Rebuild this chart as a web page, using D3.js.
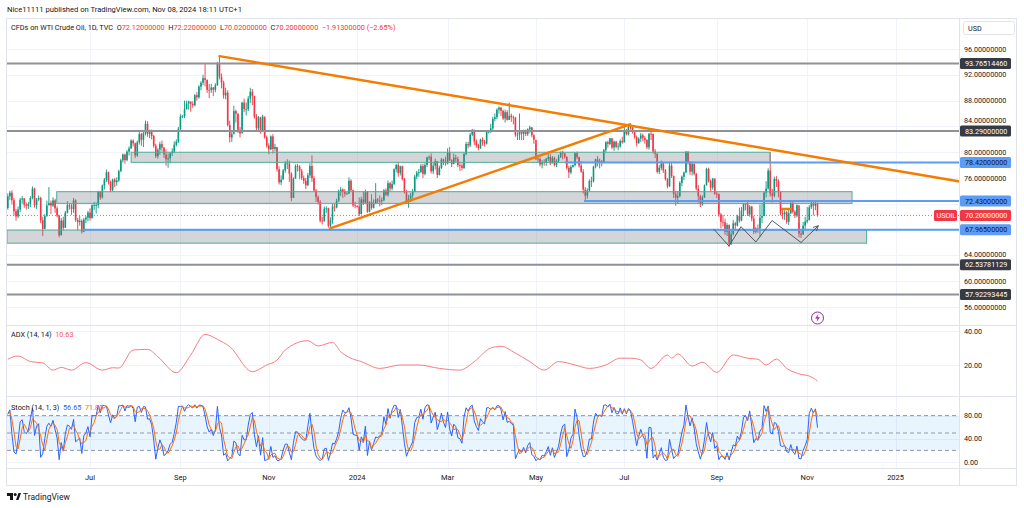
<!DOCTYPE html>
<html><head><meta charset="utf-8">
<script src="https://cdn.jsdelivr.net/npm/d3@7/dist/d3.min.js"></script>
<style>
  body { margin: 0; background: #fff; }
  text { font-family: "Roboto", "Liberation Sans", sans-serif; fill: #131722; }
</style>
</head>
<body>
<svg id="chart" width="1024" height="508"></svg>
<script>
// ---- data: USOIL daily bars, weekdays from May 8 2023 to Nov 8 2024 ----
const startDate = new Date(2023, 4, 8);
const startOpen = 71.34;
const closes = [
  73.16,73.71,72.56,70.87,70.04, 71.11,72.65,72.83,71.86,71.69, 71.99,72.91,74.34,71.83,72.67,
  72.90,69.46,68.09,70.10,71.74, 72.15,71.74,72.53,71.29,70.17, 67.12,69.42,68.27,70.62,71.78,
  71.60,71.19,72.53,69.51,69.16, 69.37,67.70,69.56,69.86,70.64, 69.79,71.79,71.79,71.80,73.86,
  72.99,74.83,75.75,76.89,75.42, 74.15,75.75,75.35,75.63,77.07, 78.74,79.63,78.78,80.09,80.58,
  81.80,81.37,79.49,81.55,82.82, 81.94,82.92,84.40,82.82,83.19, 82.51,80.99,79.38,80.39,81.25,
  80.72,79.64,78.89,79.05,79.83, 80.10,81.16,81.63,83.63,85.55, 85.60,86.69,87.54,87.87,87.51,
  87.29,88.84,88.52,90.16,90.77, 91.48,91.20,89.66,89.63,90.03, 89.68,90.39,93.68,91.71,90.79,
  88.82,89.23,84.22,82.31,82.79, 86.38,85.97,83.49,82.91,87.69, 86.66,86.66,88.32,89.37,88.75,
  85.49,83.74,85.39,83.21,85.54, 82.31,81.02,80.44,82.46,80.51, 80.82,77.37,75.33,75.74,77.17,
  78.26,78.26,76.66,72.90,75.89, 77.83,77.77,77.10,76.00,75.54, 74.86,76.41,77.86,75.96,74.07,
  73.04,72.32,69.38,69.34,71.23, 71.32,68.61,69.47,71.58,71.43, 72.47,73.94,74.22,73.89,73.56,
  73.60,75.57,74.11,71.77,71.65, 71.60,70.38,72.70,72.19,73.81, 70.77,72.24,71.37,72.02,72.68,
  72.50,72.40,72.56,74.08,73.41, 75.19,74.37,75.09,77.36,78.01, 76.78,77.82,75.85,73.82,72.28,
  72.78,73.31,73.86,76.22,76.84, 76.92,77.87,76.64,78.03,79.19, 79.30,77.04,77.91,78.61,76.49,
  77.58,78.87,78.54,78.26,79.97, 78.74,78.15,79.13,78.93,78.01, 77.93,77.56,79.72,81.26,81.04,
  82.72,83.47,81.68,81.07,80.63, 81.95,81.62,81.35,83.17,83.20, 83.71,85.15,85.43,86.59,86.91,
  86.43,85.23,86.21,85.02,85.66, 85.41,85.36,82.69,82.73,83.14, 82.85,83.36,82.81,83.57,83.85,
  82.63,81.93,79.00,78.95,78.11, 78.48,78.38,78.99,79.26,78.26, 79.12,78.02,78.63,79.23,80.06,
  79.80,79.26,77.57,76.87,77.72, 78.00,79.83,79.23,77.91,76.99, 74.22,73.25,74.07,75.55,75.53,
  77.74,78.90,78.50,78.62,78.45, 80.33,81.57,81.30,82.17,80.73, 81.63,80.83,80.90,81.74,81.54,
  83.38,82.81,83.88,83.80,83.16, 82.33,81.41,82.10,82.62,82.21, 81.91,80.76,82.85,82.82,80.13,
  79.78,76.96,77.59,78.28,77.16, 75.81,74.73,77.91,76.31,73.52, 72.94,73.20,75.23,76.19,76.84,
  80.06,78.35,76.98,78.16,76.65, 74.37,73.17,71.93,73.01,74.83, 77.42,75.53,74.52,75.91,73.55,
  73.50,70.34,69.20,69.15,67.67, 68.71,65.75,67.31,68.97,68.65, 70.09,69.39,70.91,71.95,71.92,
  70.37,71.56,69.69,67.67,68.18, 68.17,69.83,70.10,73.71,74.38, 77.14,73.57,73.24,75.85,75.56,
  73.83,70.58,70.39,70.67,69.22, 70.56,72.09,70.77,70.19,71.78, 67.38,67.21,68.61,69.26,69.49,
  71.47,71.99,71.69,72.11,70.20
];
const highs = [
  73.6,74.0,74.1,72.9,71.2, 71.6,72.9,73.2,72.9,72.2, 72.3,73.2,74.7,74.5,72.9,
  73.3,73.1,70.0,70.4,72.5, 74.6,72.5,73.0,72.8,71.6, 70.3,69.8,70.0,70.9,72.4,
  72.0,72.0,72.9,72.7,69.8, 70.1,69.6,69.8,70.1,70.9, 71.3,71.9,72.3,72.2,74.0,
  74.0,75.0,76.0,77.3,77.0, 75.6,75.9,76.0,76.1,77.3, 79.0,79.8,79.8,80.3,80.9,
  82.0,82.0,81.5,81.8,83.2, 83.0,83.3,84.9,84.8,83.5, 83.5,82.7,81.3,80.6,81.6,
  81.8,80.8,80.4,79.8,80.0, 80.6,81.7,82.0,83.9,85.9, 85.8,88.0,88.0,88.0,87.8,
  87.9,89.0,89.3,90.4,91.0, 92.0,93.7,91.3,90.6,90.6, 90.1,90.7,94.0,95.0,92.2,
  91.1,90.0,89.6,84.9,83.4, 87.2,86.6,86.0,83.9,87.8, 88.3,87.7,88.7,90.0,89.8,
  88.3,85.9,85.6,85.5,85.8, 85.2,82.6,81.4,82.6,82.8, 81.3,80.7,77.8,76.4,77.4,
  78.6,78.9,78.7,76.9,76.1, 78.1,78.2,78.0,77.4,76.4, 76.0,76.8,78.3,79.5,76.3,
  74.3,73.3,72.6,70.0,71.6, 71.6,71.4,69.9,72.0,72.0, 72.8,74.2,74.6,74.4,74.3,
  73.8,76.1,75.8,74.2,72.3, 71.8,73.0,73.1,73.9,74.2, 74.0,72.4,73.5,72.7,75.2,
  72.9,73.3,73.0,74.3,74.4, 75.6,75.4,75.6,77.5,78.2, 78.5,77.9,77.9,76.0,74.1,
  73.4,73.7,74.3,76.5,77.1, 77.4,78.2,78.2,78.3,79.3, 79.5,79.8,78.4,79.0,78.6,
  77.9,79.1,79.0,79.3,80.6, 80.8,78.9,79.8,79.6,79.3, 78.5,78.3,79.9,81.6,81.6,
  83.0,83.6,83.5,82.0,81.3, 82.1,82.3,81.9,83.3,83.4, 84.4,85.5,86.0,86.8,87.1,
  87.0,86.6,86.6,86.5,87.7, 86.0,85.7,85.5,83.1,86.0, 83.3,83.5,83.5,83.7,84.1,
  83.9,82.8,81.2,79.6,79.2, 78.8,78.9,79.1,79.8,79.7, 79.4,79.3,78.9,79.6,80.1,
  80.2,79.9,79.4,77.9,78.0, 78.1,80.0,80.1,79.3,78.6, 77.4,74.6,74.4,75.8,76.2,
  77.9,79.0,79.4,79.0,78.8, 80.5,81.7,81.8,82.2,82.1, 81.8,81.8,81.4,82.0,82.4,
  83.9,83.6,84.4,84.5,83.9, 83.2,82.6,82.3,83.0,82.9, 82.5,82.0,83.0,83.4,82.9,
  80.5,79.8,78.0,78.7,78.3, 77.4,76.0,78.5,78.4,76.4, 74.0,74.0,75.5,76.4,77.0,
  80.2,80.2,78.6,78.4,78.3, 76.8,74.9,73.4,73.3,75.0, 77.6,77.6,75.8,76.0,75.9,
  73.9,73.6,70.6,70.3,69.7, 69.0,68.8,67.8,69.5,69.2, 70.3,71.4,71.5,72.1,72.1,
  72.4,71.8,71.7,70.1,68.4, 68.8,71.9,72.0,73.9,75.5, 77.5,80.0,74.3,76.2,76.3,
  75.8,73.9,71.3,71.0,70.9, 71.1,72.4,72.4,71.0,71.9, 69.0,67.9,69.2,70.0,71.5,
  71.8,72.3,72.6,72.5,72.22
];
const lows = [
  71.1,72.6,71.9,70.2,69.4, 69.8,70.7,72.0,71.4,71.1, 71.2,71.5,72.7,71.4,71.2,
  72.4,69.0,67.0,68.3,70.0, 71.9,70.4,71.5,70.6,69.9, 66.8,67.1,67.9,68.3,70.5,
  71.1,70.3,70.6,69.2,67.9, 68.6,67.4,67.6,69.0,69.3, 69.4,69.7,71.0,70.5,71.3,
  72.6,72.8,74.2,75.4,75.0, 73.8,73.9,74.6,74.8,75.4, 76.9,78.4,78.2,78.6,79.5,
  80.5,80.9,79.1,79.3,81.2, 81.0,80.8,82.6,82.4,82.2, 82.0,80.7,79.1,79.0,79.6,
  80.1,79.1,77.9,77.6,78.3, 79.4,79.9,80.9,81.4,83.4, 85.3,85.3,86.6,86.6,86.3,
  86.9,87.1,88.0,88.3,89.6, 90.4,90.2,89.2,88.4,89.2, 88.7,89.3,90.3,91.3,89.9,
  88.3,88.2,84.0,81.5,81.6, 84.3,84.6,83.0,82.3,83.6, 86.2,85.7,86.4,87.6,87.3,
  85.2,83.3,83.3,82.9,83.2, 82.1,80.7,79.7,80.3,79.8, 80.1,77.0,75.0,74.9,75.8,
  76.8,77.4,75.4,72.4,73.1, 75.9,77.0,75.8,75.7,75.1, 74.3,74.8,76.0,75.4,73.8,
  72.3,71.9,69.1,68.8,69.2, 70.6,68.3,67.8,68.9,70.8, 71.3,72.3,73.2,72.9,73.1,
  73.4,73.5,73.9,71.5,71.3, 71.4,70.1,70.4,71.8,72.0, 70.6,70.7,71.1,71.3,72.0,
  72.1,71.6,71.8,72.4,73.2, 73.1,73.8,74.1,74.9,76.9, 76.2,76.4,75.6,73.6,72.0,
  71.4,72.3,72.8,73.8,75.8, 76.2,76.8,76.0,76.4,77.7, 78.8,76.7,76.6,77.3,76.0,
  76.4,77.4,78.0,77.9,78.1, 78.6,77.7,78.3,78.5,77.7, 77.1,77.2,77.4,79.5,80.6,
  80.8,82.5,81.1,80.7,80.3, 80.5,81.0,80.9,81.2,82.9, 83.0,83.3,84.8,85.1,86.0,
  85.6,85.0,84.6,84.9,85.0, 84.7,84.3,82.4,81.9,81.9, 81.9,81.9,82.5,82.5,83.0,
  82.3,81.3,78.8,78.5,77.8, 77.5,77.9,77.9,78.6,78.0, 78.3,77.8,77.7,78.4,79.1,
  78.9,79.0,77.3,76.0,76.6, 77.6,77.8,78.9,77.6,76.8, 73.6,72.5,72.8,73.9,74.6,
  75.3,77.5,77.8,77.5,77.8, 78.3,80.0,80.7,81.1,80.5, 80.2,80.6,80.3,80.7,81.3,
  81.5,82.6,82.6,83.5,82.9, 82.1,80.9,81.3,81.6,81.7, 81.3,80.5,80.4,81.9,79.8,
  79.1,76.7,76.6,77.2,76.8, 75.6,74.4,74.6,76.0,72.9, 71.7,72.0,73.0,74.7,75.7,
  76.8,78.1,76.5,76.4,76.4, 74.1,72.2,71.5,71.7,72.9, 74.9,75.3,73.9,74.2,73.4,
  72.9,70.0,68.2,68.5,67.2, 67.0,65.3,65.6,67.1,67.8, 68.5,69.1,69.3,70.1,71.0,
  70.1,70.0,69.3,67.3,67.4, 67.5,66.9,69.0,70.1,73.0, 74.2,73.1,72.2,73.0,74.6,
  73.0,70.2,69.6,69.5,68.9, 68.7,70.4,70.5,69.8,69.9, 66.8,66.7,67.3,68.0,69.0,
  69.4,71.2,70.2,71.0,70.02
];

// ADX(14,14): bar index and value
const adxBar = [0,5,11,17,22,26,31,38,46,51,54,61,68,73,82,89,96,102,108,119,126,131,135,146,151,158,162,
  167,172,181,191,200,210,220,227,235,240,247,254,261,268,276,283,291,298,303,
  308,313,321,323,326,333,338,345,353,360,365,369,374,379,386,390,394];
const adxVal = [23.4,25.3,22.0,21.2,17.0,18.6,17.0,21.4,17.0,18.4,18.2,28.8,29.2,24.9,15.5,25.9,38.0,35.1,30.8,16.1,20.0,22.9,28.8,34.3,31.2,33.3,27.8,
  24.0,22.0,18.0,20.0,20.0,18.0,17.0,22.0,30.0,31.0,27.0,22.0,17.0,22.0,20.0,18.0,20.0,24.0,24.0,
  23.0,18.0,25.9,24.0,26.5,19.4,21.6,15.7,25.9,24.0,23.4,20.0,23.5,18.0,14.5,13.5,10.63];

// horizontal levels and drawings, in price / bar units
const grayLevels = [93.76514460, 83.29, 62.53781129, 57.92293445];
const blueLevels = [{ p: 67.965, from: 36.6 }, { p: 72.43, from: 280.4 }, { p: 78.42, from: 271 }];
const zones = [
  { from: 60, to: 370.9, lo: 78.43, hi: 80.0 },
  { from: 23.8, to: 410.8, lo: 72.07, hi: 73.88 },
  { from: -1, to: 417.9, lo: 65.9, hi: 67.94 }
];
const trendLines = [
  [[103, 94.9], [462.6, 75.5]],
  [[156.8, 68.2], [302.8, 84.33]],
  [[376.7, 71.2], [381.1, 71.2]]
];
const patternPts = [[343.6, 68.05], [350.9, 65.46], [356.8, 68.45], [364.0, 66.08], [371.9, 69.41], [386.0, 66.0], [394.4, 68.6]];
const lastPrice = 70.20;
const monthNames = ["Jan","Feb","Mar","Apr","May","Jun","Jul","Aug","Sep","Oct","Nov","Dec"];
const priceTicks = d3.range(56, 100, 4);

// ---- layout ----
const svg = d3.select("#chart");
const L = 7, R = 959.5, axR = 1016.5;
const mainTop = 18.5, mainBot = 325.5, adxBot = 396.5, stBot = 468.5, timeBot = 485.5;
const up = "#089981", down = "#f23645";
const n = closes.length;
const opens = closes.map((c, i) => i ? closes[i - 1] : startOpen);

const x = d3.scaleLinear().domain([0, 394]).range([7.8, 817.5]);
const yP = d3.scaleLinear().domain([53.52, 100.81]).range([323, 18]);
const yA = d3.scaleLinear().domain([1.18, 43.53]).range([397, 325]);
const yS = d3.scaleLinear().domain([-10.34, 112.07]).range([468, 397]);

// trading dates for the time axis (weekdays)
const nAll = Math.ceil(x.invert(R)) + 1;
const dates = [];
for (let d = new Date(startDate); dates.length < nAll; d.setDate(d.getDate() + 1)) {
  if (d.getDay() !== 0 && d.getDay() !== 6) dates.push(new Date(d));
}
const timeTicks = [];
dates.forEach((d, i) => {
  if (i > 0 && d.getMonth() !== dates[i - 1].getMonth() && d.getMonth() % 2 === 0 && x(i) < R - 10) {
    timeTicks.push({ i, label: d.getMonth() === 0 ? String(d.getFullYear()) : monthNames[d.getMonth()] });
  }
});

// price labels on the axis (drawn last, listed here so ticks can avoid them)
const tags = [
  ...grayLevels.map(p => ({ p, fill: "#363a45", color: "#fff" })),
  ...blueLevels.map(d => ({ p: d.p, fill: "#5b9cf6", color: "#131722" })),
  { p: lastPrice, fill: "#f23645", color: "#fff" }
];

// clip paths
const defs = svg.append("defs");
defs.append("clipPath").attr("id", "clipMain").append("rect")
  .attr("x", L).attr("y", mainTop).attr("width", R - L).attr("height", mainBot - mainTop);
defs.append("clipPath").attr("id", "clipLow").append("rect")
  .attr("x", L).attr("y", mainBot).attr("width", R - L).attr("height", stBot - mainBot);

// grid
const grid = svg.append("g").attr("stroke", "#f0f3fa").attr("stroke-width", 1);
grid.selectAll("line.v").data(timeTicks).join("line")
  .attr("x1", d => Math.round(x(d.i)) + 0.5).attr("x2", d => Math.round(x(d.i)) + 0.5)
  .attr("y1", mainTop).attr("y2", stBot);
grid.selectAll("line.h").data(priceTicks).join("line")
  .attr("x1", L).attr("x2", R).attr("y1", d => Math.round(yP(d)) + 0.5).attr("y2", d => Math.round(yP(d)) + 0.5);
grid.selectAll("line.a").data([20, 40]).join("line")
  .attr("x1", L).attr("x2", R).attr("y1", d => Math.round(yA(d)) + 0.5).attr("y2", d => Math.round(yA(d)) + 0.5);
grid.selectAll("line.s").data([0, 40, 80]).join("line")
  .attr("x1", L).attr("x2", R).attr("y1", d => Math.round(yS(d)) + 0.5).attr("y2", d => Math.round(yS(d)) + 0.5);

// ---- main pane ----
const main = svg.append("g").attr("clip-path", "url(#clipMain)");
const bars = d3.range(n);
main.selectAll("line.wick").data(bars).join("line")
  .attr("x1", i => x(i)).attr("x2", i => x(i))
  .attr("y1", i => yP(highs[i])).attr("y2", i => yP(lows[i]))
  .attr("stroke", i => closes[i] >= opens[i] ? up : down).attr("stroke-width", 0.9);
main.selectAll("rect.body").data(bars).join("rect")
  .attr("x", i => x(i) - 0.8).attr("width", 1.6)
  .attr("y", i => yP(Math.max(opens[i], closes[i])))
  .attr("height", i => Math.max(0.8, Math.abs(yP(opens[i]) - yP(closes[i]))))
  .attr("fill", i => closes[i] >= opens[i] ? up : down);

// zones
main.selectAll("rect.zone").data(zones).join("rect")
  .attr("x", d => Math.max(L, x(d.from))).attr("width", d => x(d.to) - Math.max(L, x(d.from)))
  .attr("y", d => yP(d.hi)).attr("height", d => yP(d.lo) - yP(d.hi))
  .attr("fill", "#787b86").attr("fill-opacity", 0.32)
  .attr("stroke", "#4caf95").attr("stroke-width", 1);

// horizontal levels
main.selectAll("line.gray").data(grayLevels).join("line")
  .attr("x1", L).attr("x2", R).attr("y1", d => yP(d)).attr("y2", d => yP(d))
  .attr("stroke", "#8f9199").attr("stroke-width", 2);
main.selectAll("line.blue").data(blueLevels).join("line")
  .attr("x1", d => x(d.from)).attr("x2", R).attr("y1", d => yP(d.p)).attr("y2", d => yP(d.p))
  .attr("stroke", "#5b9cf6").attr("stroke-width", 2);

// trend lines
main.selectAll("line.trend").data(trendLines).join("line")
  .attr("x1", d => x(d[0][0])).attr("y1", d => yP(d[0][1]))
  .attr("x2", d => x(d[1][0])).attr("y2", d => yP(d[1][1]))
  .attr("stroke", "#f57c00").attr("stroke-width", 2.4).attr("stroke-linecap", "round");

// W pattern with arrow
defs.append("marker").attr("id", "arrow").attr("viewBox", "0 0 10 10")
  .attr("refX", 9).attr("refY", 5).attr("markerWidth", 7).attr("markerHeight", 7)
  .attr("orient", "auto-start-reverse")
  .append("path").attr("d", "M1,1 L9,5 L1,9").attr("fill", "none").attr("stroke", "#434651").attr("stroke-width", 1.3);
main.append("path")
  .attr("d", d3.line().x(d => x(d[0])).y(d => yP(d[1]))(patternPts))
  .attr("fill", "none").attr("stroke", "#434651").attr("stroke-width", 0.9)
  .attr("marker-end", "url(#arrow)");

// last price line
main.append("line").attr("x1", L).attr("x2", R).attr("y1", yP(lastPrice)).attr("y2", yP(lastPrice))
  .attr("stroke", "#f23645").attr("stroke-width", 0.8).attr("stroke-dasharray", "1,2");

// event marker
const ev = svg.append("g").attr("transform", `translate(${x(394)},318)`);
ev.append("circle").attr("r", 6).attr("fill", "#fff").attr("stroke", "#9c27b0").attr("stroke-width", 1);
ev.append("path").attr("d", "M1,-4 L-2.5,0.5 L0,0.5 L-1,4 L2.5,-0.8 L0,-0.8 Z").attr("fill", "#9c27b0");

// ---- ADX pane ----
const low = svg.append("g").attr("clip-path", "url(#clipLow)");
low.append("path")
  .attr("d", d3.line().curve(d3.curveMonotoneX).x((d, k) => x(d)).y((d, k) => yA(adxVal[k]))(adxBar))
  .attr("fill", "none").attr("stroke", "#f77c80").attr("stroke-width", 1);

// ---- Stoch pane ----
const kVals = closes.map((c, i) => {
  const s = Math.max(0, i - 13);
  const hh = d3.max(highs.slice(s, i + 1)), ll = d3.min(lows.slice(s, i + 1));
  return 100 * (c - ll) / (hh - ll);
});
const dVals = kVals.map((k, i) => d3.mean(kVals.slice(Math.max(0, i - 2), i + 1)));

low.append("rect").attr("x", L).attr("width", R - L)
  .attr("y", yS(80)).attr("height", yS(20) - yS(80)).attr("fill", "#2196f3").attr("fill-opacity", 0.1);
low.selectAll("line.band").data([80, 50, 20]).join("line")
  .attr("x1", L).attr("x2", R).attr("y1", d => yS(d)).attr("y2", d => yS(d))
  .attr("stroke", "#9598a1").attr("stroke-width", 1).attr("stroke-dasharray", "4,3");
low.append("path").attr("d", d3.line().x((d, i) => x(i)).y(d => yS(d))(kVals))
  .attr("fill", "none").attr("stroke", "#2962ff").attr("stroke-width", 1);
low.append("path").attr("d", d3.line().x((d, i) => x(i)).y(d => yS(d))(dVals))
  .attr("fill", "none").attr("stroke", "#ff6d00").attr("stroke-width", 1);

// ---- frame ----
const frame = svg.append("g").attr("stroke", "#e0e3eb").attr("stroke-width", 1).attr("fill", "none");
frame.append("rect").attr("x", L - 0.5).attr("y", mainTop).attr("width", axR - L + 0.5).attr("height", timeBot - mainTop);
[mainBot, adxBot, stBot].forEach(yy => frame.append("line").attr("x1", L).attr("x2", axR).attr("y1", yy).attr("y2", yy));
frame.append("line").attr("x1", R).attr("x2", R).attr("y1", mainTop).attr("y2", timeBot);

// ---- axes text ----
// tick labels under a price tag are hidden; 84 is nudged up just above the 83.29 tag
const tickY = t => {
  const near = tags.filter(g => Math.abs(yP(g.p) - yP(t)) <= 10);
  if (!near.length) return yP(t) + 2.5;
  return near.some(g => Math.abs(yP(g.p) - yP(t)) < 4) ? null : yP(near[0].p) - 7.5;
};
const axisG = svg.append("g").attr("font-size", 7.2);
axisG.selectAll("text.pt").data(priceTicks.filter(t => tickY(t) !== null)).join("text")
  .attr("x", 964).attr("y", d => tickY(d)).text(d => d.toFixed(8));
axisG.selectAll("text.at").data([40, 20]).join("text")
  .attr("x", 964).attr("y", d => yA(d) + 2.5).text(d => d.toFixed(2));
axisG.selectAll("text.st").data([80, 40, 0]).join("text")
  .attr("x", 964).attr("y", d => yS(d) + 2.5).text(d => d.toFixed(2));
axisG.selectAll("text.tt").data(timeTicks).join("text")
  .attr("x", d => x(d.i)).attr("y", 479.5).attr("text-anchor", "middle").attr("font-size", 7.5).text(d => d.label);

const tagG = svg.append("g").selectAll("g").data(tags).join("g")
  .attr("transform", d => `translate(960,${yP(d.p)})`);
tagG.append("rect").attr("x", 0).attr("y", -5.5).attr("width", 51).attr("height", 11).attr("rx", 1.5)
  .attr("fill", d => d.fill);
tagG.append("text").attr("x", 5).attr("y", 2.6).attr("font-size", 7.2)
  .style("fill", d => d.color).text(d => d.p.toFixed(8));
const sym = svg.append("g").attr("transform", `translate(934,${yP(lastPrice)})`);
sym.append("rect").attr("x", 0).attr("y", -5.5).attr("width", 23).attr("height", 11).attr("rx", 1.5).attr("fill", "#f23645");
sym.append("text").attr("x", 2.5).attr("y", 2.6).attr("font-size", 7.2).style("fill", "#fff").text("USOIL");

// USD box
svg.append("rect").attr("x", 963.5).attr("y", 21.5).attr("width", 51).attr("height", 13).attr("rx", 2)
  .attr("fill", "#fff").attr("stroke", "#e0e3eb");
svg.append("text").attr("x", 968).attr("y", 30.5).attr("font-size", 7.2).text("USD");

// ---- titles / legends ----
svg.append("text").attr("x", 7).attr("y", 12).attr("font-size", 7.6)
  .text("Nice11111 published on TradingView.com, Nov 08, 2024 18:11 UTC+1");
const ttl = svg.append("text").attr("x", 11).attr("y", 29.5).attr("font-size", 7.3).attr("style", "white-space:pre");
const red = "#f23645";
[["CFDs on WTI Crude Oil, 1D, TVC  ", null], ["O", null], ["72.12000000", red], ["  H", null], ["72.22000000", red],
 ["  L", null], ["70.02000000", red], ["  C", null], ["70.20000000", red], ["  −1.91300000 (−2.65%)", red]]
  .forEach(([t, c]) => { const s = ttl.append("tspan").text(t); if (c) s.style("fill", c); });

const adxL = svg.append("text").attr("x", 11).attr("y", 336.5).attr("font-size", 7.3).attr("style", "white-space:pre");
adxL.append("tspan").text("ADX (14, 14)  ");
adxL.append("tspan").text("10.63").style("fill", "#f7525f");
const stL = svg.append("text").attr("x", 11).attr("y", 409.5).attr("font-size", 7.3).attr("style", "white-space:pre");
stL.append("tspan").text("Stoch (14, 1, 3)  ");
stL.append("tspan").text("56.65").style("fill", "#2962ff");
stL.append("tspan").text("  71.80").style("fill", "#ff6d00");

// TradingView mark
const logo = svg.append("g").attr("transform", "translate(7,493)");
logo.append("path").attr("d", "M0,0 H6 V7 H3 V3 H0 Z").attr("fill", "#131722");
logo.append("circle").attr("cx", 8.2).attr("cy", 1.5).attr("r", 1.5).attr("fill", "#131722");
logo.append("path").attr("d", "M9,7 L11.5,0 H14 L11.5,7 Z").attr("fill", "#131722");
svg.append("text").attr("x", 23).attr("y", 500).attr("font-size", 8.5).text("TradingView");
</script>
</body></html>
